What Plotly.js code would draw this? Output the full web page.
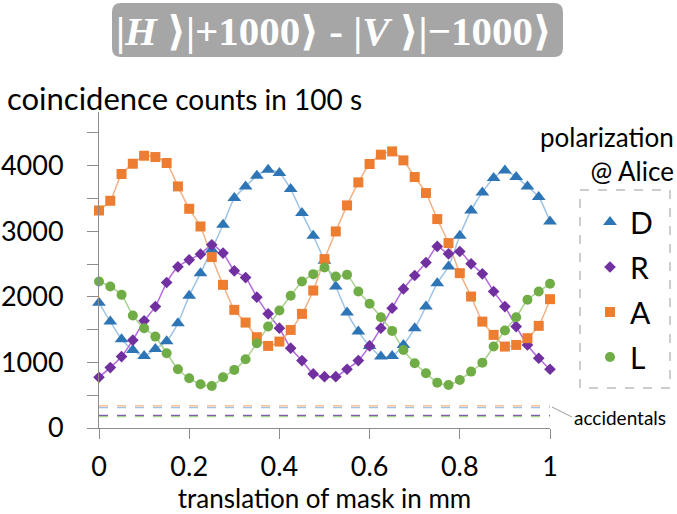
<!DOCTYPE html>
<html>
<head>
<meta charset="utf-8">
<script src="https://cdn.plot.ly/plotly-3.0.1.min.js"></script>
<style>html,body{margin:0;padding:0;background:#fff;}#chart{width:677px;height:514px;}</style>
</head>
<body>
<div id="chart"></div>
<script>
// ---- data ----
const xMm = [0,0.025,0.05,0.075,0.1,0.125,0.15,0.175,0.2,0.225,0.25,0.275,0.3,0.325,0.35,0.375,0.4,0.425,0.45,0.475,0.5,0.525,0.55,0.575,0.6,0.625,0.65,0.675,0.7,0.725,0.75,0.775,0.8,0.825,0.85,0.875,0.9,0.925,0.95,0.975,1];
const countsD = [1909,1623,1354,1191,1099,1206,1324,1599,2016,2362,2720,3100,3507,3685,3848,3940,3889,3645,3278,2932,2550,2158,1761,1471,1252,1089,1099,1267,1522,1852,2209,2463,2932,3318,3593,3813,3929,3828,3685,3523,3150];
const countsR = [774,921,1089,1339,1634,1852,2219,2458,2565,2652,2794,2668,2397,2295,1996,1741,1522,1217,1028,825,783,783,896,1028,1252,1522,1827,2122,2326,2524,2769,2657,2692,2504,2352,2082,1852,1547,1267,1064,896];
const countsA = [3318,3466,3874,4031,4153,4133,4042,3685,3344,3074,2607,2184,1802,1608,1385,1252,1318,1496,1741,2097,2576,2998,3395,3746,4027,4169,4219,4082,3828,3584,3187,2820,2362,2005,1623,1420,1242,1267,1370,1558,1965];
const countsL = [2234,2158,2031,1715,1522,1394,1141,896,759,667,641,774,886,1049,1293,1547,1791,2016,2234,2347,2448,2310,2336,2082,1894,1690,1481,1191,988,835,692,657,733,860,997,1242,1486,1690,1955,2082,2199];
const seriesNames = ['D','R','A','L'];
const accidentalX = [0, 1];
const accidentalA = 336, accidentalD = 310, accidentalR = 193, accidentalL = 173;
const xTickVals = [0,0.2,0.4,0.6,0.8,1];
const xTickText = ['0','0.2','0.4','0.6','0.8','1'];
const yTickVals = [0,1000,2000,3000,4000];
const yTickText = ['0','1000','2000','3000','4000'];
const yMinorVals = [500,1500,2500,3500,4500];

// ---- styling ----
const FONT = 'Lato, "Open Sans", sans-serif';
const AX = '#8c8c8c';
const styles = {
  D: {mk:'#2e75b6', ln:'#9dc3e6', sym:'triangle-up', size:12, acc:'#9dc3e6'},
  R: {mk:'#7030a0', ln:'#b469e0', sym:'diamond', size:9, acc:'#7f60a8'},
  A: {mk:'#ed7d31', ln:'#f4b183', sym:'square', size:10, acc:'#f4b183'},
  L: {mk:'#70ad47', ln:'#a9d18e', sym:'circle', size:10, acc:'#a9d18e'}
};
const ys = {D:countsD, R:countsR, A:countsA, L:countsL};
const acc = {D:accidentalD, R:accidentalR, A:accidentalA, L:accidentalL};

const traces = [];
['A','D','R','L'].forEach(k=>{
  traces.push({x:accidentalX, y:[acc[k],acc[k]], mode:'lines', showlegend:false, hoverinfo:'skip',
    line:{color:styles[k].acc, width:1.3, dash:'dash'}});
});
seriesNames.forEach(k=>{
  traces.push({x:xMm, y:ys[k], mode:'lines', showlegend:false, hoverinfo:'skip',
    line:{color:styles[k].ln, width:1.5, shape:'spline', smoothing:0.6}});
});
seriesNames.forEach((k,i)=>{
  traces.push({x:xMm, y:ys[k], mode:'markers', name:k, legendgroup:'g'+i, cliponaxis:false,
    marker:{symbol:styles[k].sym, size:styles[k].size, color:styles[k].mk}});
});

const PL=99, PR=550, PT=112, PB=428;
const PX = p => (p-PL)/(PR-PL);
const PY = p => (PB-p)/(PB-PT);
function rrect(x0,y0,x1,y1,r){
  const X=p=>PX(p).toFixed(5), Y=p=>PY(p).toFixed(5);
  return `M${X(x0+r)},${Y(y0)} L${X(x1-r)},${Y(y0)} Q${X(x1)},${Y(y0)} ${X(x1)},${Y(y0+r)} L${X(x1)},${Y(y1-r)} Q${X(x1)},${Y(y1)} ${X(x1-r)},${Y(y1)} L${X(x0+r)},${Y(y1)} Q${X(x0)},${Y(y1)} ${X(x0)},${Y(y1-r)} L${X(x0)},${Y(y0+r)} Q${X(x0)},${Y(y0)} ${X(x0+r)},${Y(y0)} Z`;
}

const layout = {
  width:677, height:514,
  margin:{l:PL, r:677-PR, t:PT, b:514-PB},
  paper_bgcolor:'#fff', plot_bgcolor:'#fff',
  font:{family:FONT, color:'#000'},
  xaxis:{range:[0,1], tickvals:xTickVals, ticktext:xTickText, ticks:'outside', ticklen:10, tickcolor:AX,
    showline:true, linecolor:AX, linewidth:1, showgrid:false, zeroline:false,
    tickfont:{size:27, family:FONT}, ticklabelstandoff:5,
    title:{text:'translation of mask in mm', font:{size:26, family:FONT}, standoff:6}},
  yaxis:{range:[0,4820], tickvals:yTickVals, ticktext:yTickText, ticks:'outside', ticklen:11, tickcolor:AX,
    minor:{tickvals:yMinorVals, ticks:'outside', ticklen:11, tickcolor:AX},
    showline:true, linecolor:AX, linewidth:1, showgrid:false, zeroline:false,
    tickfont:{size:27, family:FONT}, ticklabelstandoff:18},
  showlegend:true,
  legend:{x:PX(590), y:PY(196), xanchor:'left', yanchor:'top', bgcolor:'rgba(0,0,0,0)', borderwidth:0,
    font:{size:30, family:FONT}, tracegroupgap:3, itemwidth:30},
  shapes:[
    {type:'path', xref:'paper', yref:'paper', path:rrect(112,3,563,57,9), fillcolor:'#a6a6a6', line:{width:0}},
    {type:'rect', xref:'paper', yref:'paper', x0:PX(580), x1:PX(670), y0:PY(190), y1:PY(388),
      line:{color:'#9a9a9a', width:1, dash:'dash'}, fillcolor:'rgba(0,0,0,0)'}
  ],
  annotations:[
    {xref:'paper', yref:'paper', x:PX(334), y:PY(31), xanchor:'center', yanchor:'middle', showarrow:false,
      text:'<b>|<i>H</i> ⟩|+1000⟩ - |<i>V</i> ⟩|−1000⟩</b>',
      font:{family:'"Liberation Serif", "DejaVu Serif", serif', size:41, color:'#fff'}},
    {xref:'paper', yref:'paper', x:PX(5), y:PY(98), xanchor:'left', yanchor:'middle', showarrow:false,
      text:'<span style="font-size:31px">coincidence</span> counts in 100 s', font:{size:28, family:FONT}},
    {xref:'paper', yref:'paper', x:PX(676), y:PY(154), xanchor:'right', yanchor:'middle', showarrow:false, align:'right',
      text:'polarization<br>@ Alice', font:{size:26, family:FONT}},
    {xref:'paper', yref:'paper', x:PX(552), y:PY(407), ax:20, ay:10, xanchor:'left', yanchor:'middle',
      showarrow:true, arrowhead:0, arrowwidth:1, arrowcolor:'#9a9a9a', standoff:0,
      text:'accidentals', font:{size:19, family:FONT}}
  ]
};
Plotly.newPlot('chart', traces, layout, {displayModeBar:false, staticPlot:true});
</script>
</body>
</html>
